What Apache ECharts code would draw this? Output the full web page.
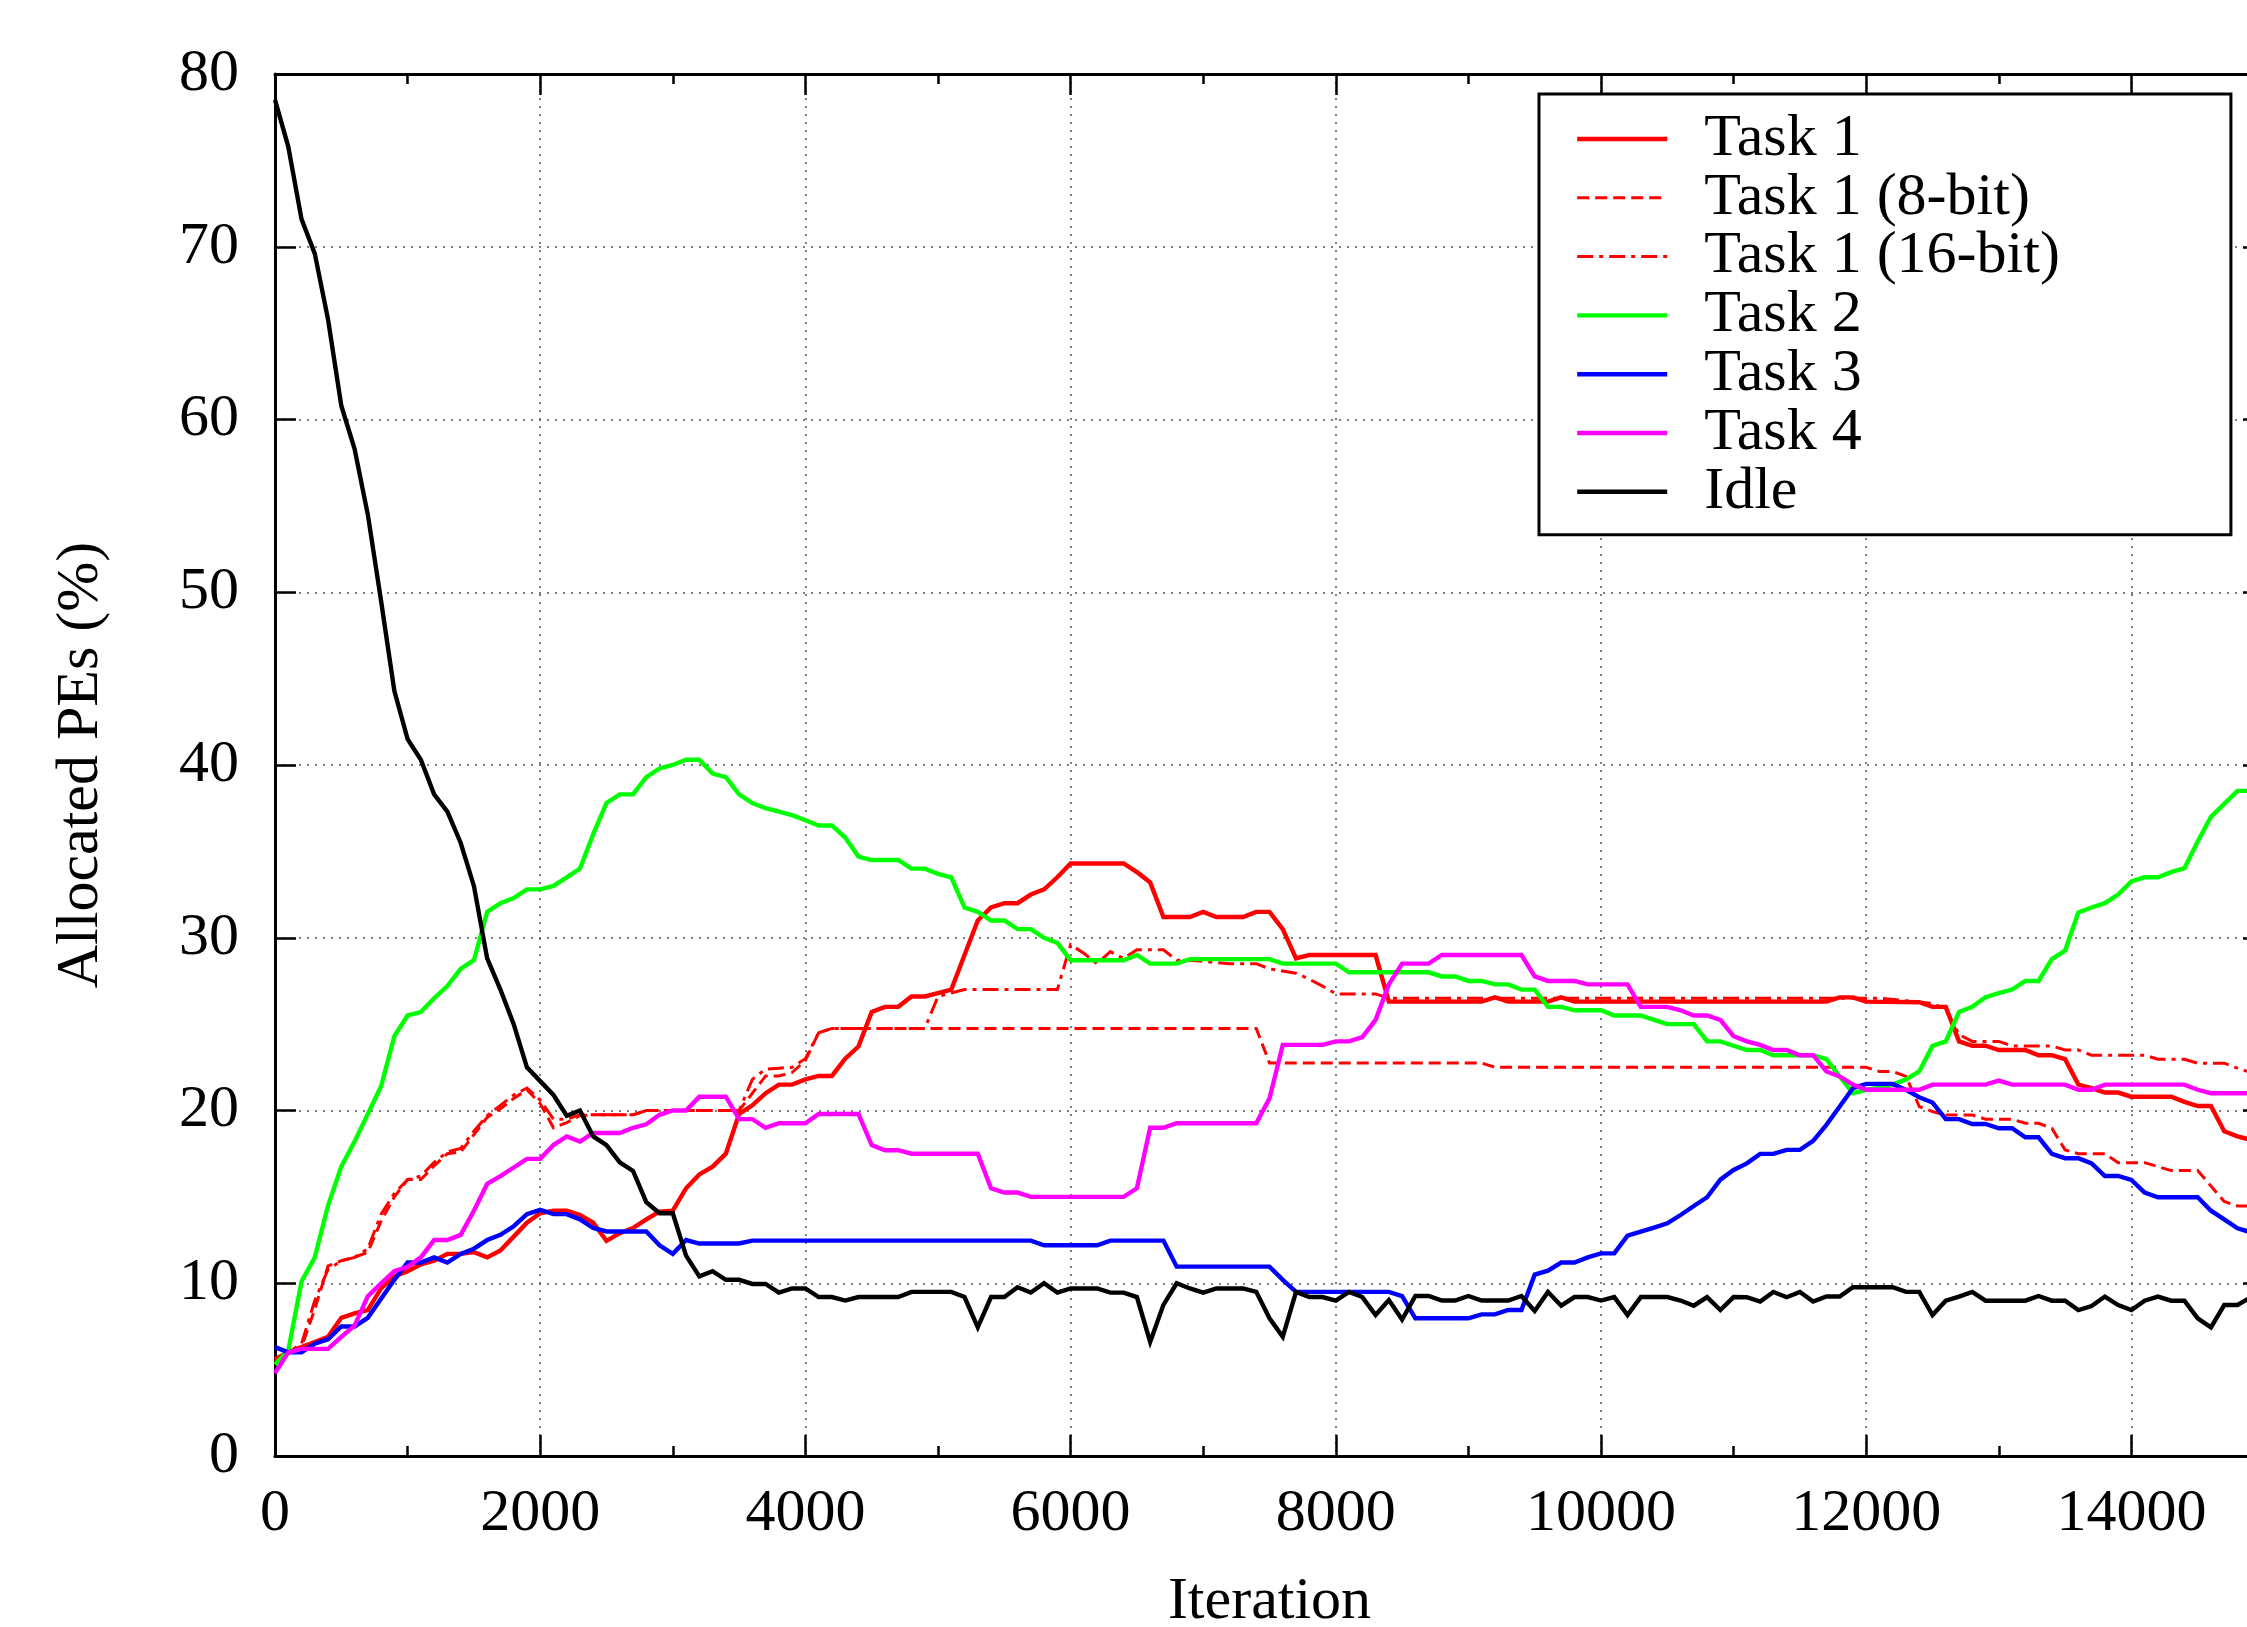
<!DOCTYPE html>
<html>
<head>
<meta charset="utf-8">
<script src="https://cdn.jsdelivr.net/npm/echarts@6/dist/echarts.min.js"></script>
<style>
  html, body { margin: 0; padding: 0; background: #fff; }
  #main { width: 2247px; height: 1627px; }
</style>
</head>
<body>
<div id="main"></div>
<script>
// [iteration, allocated PEs %]
const task1 = [[0,5.6],[100,6.0],[200,6.3],[300,6.6],[400,6.9],[500,8.0],[600,8.25],[700,8.45],[800,9.7],[900,10.4],[1000,10.7],[1100,11.1],[1200,11.3],[1300,11.7],[1400,11.7],[1500,11.8],[1600,11.5],[1700,11.9],[1800,12.7],[1900,13.5],[2000,14.05],[2100,14.2],[2200,14.2],[2300,13.95],[2400,13.5],[2500,12.45],[2600,12.9],[2700,13.2],[2800,13.7],[2900,14.15],[3000,14.2],[3100,15.5],[3200,16.3],[3300,16.75],[3400,17.5],[3500,19.8],[3600,20.3],[3700,21.0],[3800,21.5],[3900,21.5],[4000,21.8],[4100,22.0],[4200,22.0],[4300,23.0],[4400,23.7],[4500,25.7],[4600,26.0],[4700,26.0],[4800,26.6],[4900,26.6],[5000,26.8],[5100,27.0],[5200,29.0],[5300,31.0],[5400,31.75],[5500,32.0],[5600,32.0],[5700,32.5],[5800,32.8],[5900,33.5],[6000,34.3],[6400,34.3],[6500,33.8],[6600,33.2],[6700,31.2],[6900,31.2],[7000,31.5],[7100,31.2],[7300,31.2],[7400,31.5],[7500,31.5],[7600,30.5],[7700,28.8],[7800,29.0],[8300,29.0],[8400,26.3],[9100,26.3],[9200,26.55],[9300,26.3],[9600,26.3],[9700,26.55],[9800,26.3],[11700,26.3],[11800,26.55],[11900,26.55],[12000,26.3],[12400,26.27],[12500,26.0],[12600,26.0],[12700,24.0],[12800,23.75],[12900,23.75],[13000,23.5],[13200,23.5],[13300,23.2],[13400,23.2],[13500,22.97],[13600,21.5],[13700,21.3],[13800,21.04],[13900,21.04],[14000,20.8],[14300,20.8],[14400,20.5],[14500,20.26],[14600,20.26],[14700,18.8],[14800,18.5],[14900,18.3]];

const task1Bit8 = [[0,5.5],[100,6.0],[200,6.3],[300,8.5],[400,11.0],[500,11.3],[600,11.5],[700,11.8],[800,13.6],[900,15.0],[1000,16.0],[1100,16.0],[1200,16.8],[1300,17.5],[1400,17.6],[1500,18.6],[1600,19.6],[1700,20.1],[1800,20.7],[1900,21.2],[2000,20.4],[2100,19.0],[2200,19.3],[2300,19.7],[2400,19.75],[2700,19.75],[2800,20.0],[3500,20.0],[3600,21.0],[3700,22.0],[3800,22.0],[3900,22.2],[4000,22.9],[4100,24.5],[4200,24.75],[7400,24.75],[7500,22.75],[9100,22.75],[9200,22.5],[12000,22.5],[12100,22.26],[12200,22.26],[12300,21.97],[12400,20.23],[12500,19.94],[12600,19.74],[12800,19.74],[12900,19.5],[13100,19.5],[13200,19.26],[13300,19.26],[13400,18.97],[13500,17.72],[13600,17.5],[13800,17.5],[13900,16.98],[14100,16.98],[14200,16.75],[14300,16.52],[14500,16.52],[14600,15.63],[14700,14.73],[14800,14.47],[14900,14.47]];

const task1Bit16 = [[0,5.5],[100,6.0],[200,6.5],[300,9.0],[400,10.8],[500,11.3],[600,11.5],[700,12.0],[800,14.0],[900,15.2],[1000,16.0],[1100,16.2],[1200,17.0],[1300,17.6],[1400,17.8],[1500,18.8],[1600,19.7],[1700,20.3],[1800,20.9],[1900,21.3],[2000,20.6],[2100,19.5],[2200,19.5],[2300,19.75],[2700,19.75],[2800,20.0],[3500,20.0],[3600,21.8],[3700,22.4],[3800,22.45],[3900,22.5],[4000,23.0],[4100,24.5],[4200,24.75],[4900,24.75],[5000,26.6],[5100,26.8],[5200,27.0],[5900,27.0],[6000,29.6],[6100,29.1],[6200,28.5],[6300,29.2],[6400,28.8],[6500,29.3],[6700,29.3],[6800,28.7],[6900,28.7],[7200,28.5],[7400,28.5],[7500,28.2],[7700,27.95],[7800,27.6],[7900,27.2],[8000,26.75],[8300,26.75],[8400,26.5],[12100,26.5],[12500,26.2],[12600,25.87],[12700,24.4],[12800,24.0],[13000,24.0],[13100,23.74],[13400,23.74],[13500,23.5],[13600,23.5],[13700,23.2],[14100,23.2],[14200,22.97],[14400,22.97],[14500,22.74],[14700,22.74],[14800,22.45],[14900,22.2]];

const task2 = [[0,5.3],[100,6.1],[200,10.1],[300,11.5],[400,14.5],[500,16.75],[600,18.2],[700,19.8],[800,21.4],[900,24.3],[1000,25.5],[1100,25.7],[1200,26.5],[1300,27.2],[1400,28.2],[1500,28.7],[1600,31.5],[1700,32.0],[1800,32.3],[1900,32.8],[2000,32.8],[2100,33.0],[2200,33.5],[2300,34.0],[2400,36.0],[2500,37.8],[2600,38.3],[2700,38.3],[2800,39.3],[2900,39.8],[3000,40.0],[3100,40.3],[3200,40.3],[3300,39.5],[3400,39.3],[3500,38.3],[3600,37.8],[3700,37.5],[3800,37.3],[3900,37.1],[4000,36.8],[4100,36.5],[4200,36.5],[4300,35.8],[4400,34.7],[4500,34.5],[4700,34.5],[4800,34.0],[4900,34.0],[5000,33.7],[5100,33.5],[5200,31.75],[5300,31.5],[5400,31.0],[5500,31.0],[5600,30.5],[5700,30.5],[5800,30.0],[5900,29.7],[6000,28.7],[6400,28.7],[6500,29.0],[6600,28.5],[6800,28.5],[6900,28.76],[7500,28.76],[7600,28.5],[8000,28.5],[8100,28.0],[8700,28.0],[8800,27.76],[8900,27.76],[9000,27.5],[9100,27.5],[9200,27.3],[9300,27.3],[9400,27.0],[9500,27.0],[9600,26.0],[9700,26.0],[9800,25.8],[10000,25.8],[10100,25.5],[10300,25.5],[10400,25.25],[10500,25.0],[10700,25.0],[10800,24.0],[10900,24.0],[11000,23.75],[11100,23.5],[11200,23.5],[11300,23.2],[11600,23.2],[11700,22.97],[11800,21.97],[11900,21.0],[12000,21.2],[12100,21.3],[12200,21.5],[12300,21.8],[12400,22.26],[12500,23.74],[12600,24.0],[12700,25.7],[12800,26.0],[12900,26.56],[13000,26.8],[13100,27.0],[13200,27.5],[13300,27.5],[13400,28.76],[13500,29.26],[13600,31.46],[13700,31.75],[13800,32.0],[13900,32.5],[14000,33.26],[14100,33.5],[14200,33.5],[14300,33.8],[14400,34.03],[14500,35.57],[14600,37.0],[14700,37.75],[14800,38.5],[14900,38.5]];

const task3 = [[0,6.3],[100,6.0],[200,6.0],[300,6.5],[400,6.75],[500,7.5],[600,7.5],[700,8.0],[800,9.1],[900,10.2],[1000,11.2],[1100,11.2],[1200,11.5],[1300,11.2],[1400,11.7],[1500,12.0],[1600,12.5],[1700,12.8],[1800,13.3],[1900,14.0],[2000,14.25],[2100,14.0],[2200,14.0],[2300,13.7],[2400,13.2],[2500,13.0],[2800,13.0],[2900,12.2],[3000,11.7],[3100,12.5],[3200,12.3],[3500,12.3],[3600,12.47],[5700,12.47],[5800,12.2],[6200,12.2],[6300,12.47],[6700,12.47],[6800,10.96],[7500,10.96],[7600,10.2],[7700,9.5],[8400,9.5],[8500,9.26],[8600,7.97],[9000,7.97],[9100,8.2],[9200,8.2],[9300,8.45],[9400,8.45],[9500,10.5],[9600,10.73],[9700,11.2],[9800,11.2],[9900,11.5],[10000,11.73],[10100,11.73],[10200,12.76],[10300,12.99],[10400,13.22],[10500,13.47],[10600,13.95],[10700,14.47],[10800,14.98],[10900,16.0],[11000,16.56],[11100,16.94],[11200,17.49],[11300,17.49],[11400,17.72],[11500,17.72],[11600,18.24],[11700,19.17],[11800,20.23],[11900,21.29],[12000,21.54],[12200,21.54],[12300,21.19],[12400,20.77],[12500,20.46],[12600,19.5],[12700,19.5],[12800,19.22],[12900,19.22],[13000,18.97],[13100,18.97],[13200,18.45],[13300,18.45],[13400,17.49],[13500,17.24],[13600,17.24],[13700,16.94],[13800,16.21],[13900,16.21],[14000,15.98],[14100,15.25],[14200,14.98],[14500,14.98],[14600,14.2],[14700,13.7],[14800,13.18],[14900,12.95]];

const task4 = [[0,4.8],[100,6.0],[200,6.2],[400,6.2],[500,6.9],[600,7.55],[700,9.25],[800,10.0],[900,10.7],[1000,10.95],[1100,11.5],[1200,12.5],[1300,12.5],[1400,12.8],[1500,14.2],[1600,15.75],[1700,16.2],[1800,16.7],[1900,17.2],[2000,17.2],[2100,18.0],[2200,18.5],[2300,18.2],[2400,18.7],[2600,18.7],[2700,19.0],[2800,19.2],[2900,19.75],[3000,20.0],[3100,20.0],[3200,20.8],[3400,20.8],[3500,19.5],[3600,19.5],[3700,19.0],[3800,19.26],[4000,19.26],[4100,19.8],[4400,19.8],[4500,18.0],[4600,17.7],[4700,17.7],[4800,17.5],[5300,17.5],[5400,15.5],[5500,15.25],[5600,15.25],[5700,15.0],[6400,15.0],[6500,15.5],[6600,19.0],[6700,19.0],[6800,19.26],[7400,19.26],[7500,20.7],[7600,23.8],[7900,23.8],[8000,24.0],[8100,24.0],[8200,24.25],[8300,25.25],[8400,27.3],[8500,28.5],[8700,28.5],[8800,29.0],[9400,29.0],[9500,27.76],[9600,27.5],[9800,27.5],[9900,27.3],[10200,27.3],[10300,26.0],[10500,26.0],[10600,25.8],[10700,25.5],[10800,25.5],[10900,25.25],[11000,24.3],[11100,24.0],[11200,23.8],[11300,23.5],[11400,23.5],[11500,23.2],[11600,23.2],[11700,22.26],[11800,21.97],[11900,21.5],[12000,21.2],[12400,21.2],[12500,21.5],[12900,21.5],[13000,21.73],[13100,21.5],[13500,21.5],[13600,21.2],[13700,21.2],[13800,21.5],[14400,21.5],[14500,21.2],[14600,21.0],[14900,21.0]];

const idle = [[0,78.5],[100,75.8],[200,71.6],[300,69.6],[400,65.8],[500,60.8],[600,58.3],[700,54.5],[800,49.5],[900,44.3],[1000,41.5],[1100,40.3],[1200,38.3],[1300,37.3],[1400,35.5],[1500,33.0],[1600,28.8],[1700,27.0],[1800,25.0],[1900,22.5],[2000,21.7],[2100,20.9],[2200,19.7],[2300,20.0],[2400,18.5],[2500,18.0],[2600,17.0],[2700,16.5],[2800,14.7],[2900,14.05],[3000,14.05],[3100,11.6],[3200,10.4],[3300,10.7],[3400,10.2],[3500,10.2],[3600,9.96],[3700,9.96],[3800,9.46],[3900,9.7],[4000,9.7],[4100,9.2],[4200,9.2],[4300,9.0],[4400,9.2],[4700,9.2],[4800,9.5],[5100,9.5],[5200,9.2],[5300,7.45],[5400,9.2],[5500,9.2],[5600,9.77],[5700,9.46],[5800,10.0],[5900,9.46],[6000,9.7],[6200,9.7],[6300,9.46],[6400,9.46],[6500,9.2],[6600,6.6],[6700,8.75],[6800,10.0],[6900,9.7],[7000,9.46],[7100,9.7],[7300,9.7],[7400,9.5],[7500,7.97],[7600,6.9],[7700,9.5],[7800,9.2],[7900,9.2],[8000,9.0],[8100,9.5],[8200,9.2],[8300,8.16],[8400,9.03],[8500,7.9],[8600,9.26],[8700,9.26],[8800,9.0],[8900,9.0],[9000,9.26],[9100,9.0],[9300,9.0],[9400,9.26],[9500,8.4],[9600,9.5],[9700,8.7],[9800,9.2],[9900,9.2],[10000,9.0],[10100,9.2],[10200,8.16],[10300,9.2],[10500,9.2],[10600,9.0],[10700,8.7],[10800,9.2],[10900,8.45],[11000,9.2],[11100,9.19],[11200,8.94],[11300,9.5],[11400,9.19],[11500,9.5],[11600,8.94],[11700,9.23],[11800,9.23],[11900,9.77],[12200,9.77],[12300,9.5],[12400,9.5],[12500,8.16],[12600,8.99],[12700,9.23],[12800,9.5],[12900,8.99],[13200,8.99],[13300,9.26],[13400,8.99],[13500,8.99],[13600,8.45],[13700,8.68],[13800,9.23],[13900,8.74],[14000,8.45],[14100,8.99],[14200,9.23],[14300,8.99],[14400,8.99],[14500,7.97],[14600,7.45],[14700,8.74],[14800,8.74],[14900,9.19]];

let chart = echarts.init(document.getElementById('main'));

const FONT = 'Liberation Serif';

let makeSeries = function (name, data, color, width, dash) {
    return {
        name: name,
        type: 'line',
        data: data,
        symbol: 'none',
        animation: false,
        lineStyle: { color: color, width: width, type: dash || 'solid', cap: 'butt', join: 'miter' },
        itemStyle: { color: color }
    };
};

let tickStyle = { color: '#000', width: 2.5 };

let option = {
    backgroundColor: '#fff',
    textStyle: { fontFamily: FONT },
    // plot box runs slightly past the right edge of the picture (x max = 15000)
    grid: { left: 275, top: 74, width: 1989, height: 1382, outerBoundsMode: 'none', containLabel: false },
    legend: {
        orient: 'vertical',
        left: 1539,
        top: 94,
        padding: [15, 171, 13, 36],
        itemWidth: 90,
        itemHeight: 20,
        itemGap: -1.2,
        backgroundColor: '#fff',
        borderColor: '#000',
        borderWidth: 3,
        borderRadius: 0,
        itemStyle: { opacity: 0 },
        lineStyle: { width: 'inherit' },
        textStyle: { fontFamily: FONT, fontSize: 60, color: '#000', padding: [0, 0, 0, 32] },
        data: ['Task 1', 'Task 1 (8-bit)', 'Task 1 (16-bit)', 'Task 2', 'Task 3', 'Task 4', 'Idle']
    },
    xAxis: [{
        type: 'value',
        min: 0,
        max: 15000,
        interval: 2000,
        name: 'Iteration',
        nameLocation: 'middle',
        nameGap: 116,
        nameTextStyle: { fontFamily: FONT, fontSize: 60, color: '#000' },
        axisLine: { show: true, onZero: false, lineStyle: { color: '#000', width: 3 } },
        axisTick: { show: true, inside: true, length: 21, lineStyle: tickStyle },
        minorTick: { show: true, splitNumber: 2, length: 10, lineStyle: tickStyle },
        axisLabel: {
            fontFamily: FONT, fontSize: 60, color: '#000', margin: 28, showMaxLabel: false,
            formatter: function (v) { return String(v); }
        },
        splitLine: { show: true, lineStyle: { color: '#555', width: 1.5, type: [2, 6] } }
    }, {
        type: 'value',
        position: 'top',
        min: 0,
        max: 15000,
        interval: 2000,
        axisLine: { show: true, onZero: false, lineStyle: { color: '#000', width: 3 } },
        axisTick: { show: true, inside: true, length: 21, lineStyle: tickStyle },
        minorTick: { show: true, splitNumber: 2, length: 10, lineStyle: tickStyle },
        axisLabel: { show: false },
        splitLine: { show: false }
    }],
    yAxis: [{
        type: 'value',
        min: 0,
        max: 80,
        interval: 10,
        name: 'Allocated PEs (%)',
        nameLocation: 'middle',
        nameGap: 164,
        nameTextStyle: { fontFamily: FONT, fontSize: 60, color: '#000' },
        axisLine: { show: true, onZero: false, lineStyle: { color: '#000', width: 3 } },
        axisTick: { show: true, inside: true, length: 21, lineStyle: tickStyle },
        axisLabel: { fontFamily: FONT, fontSize: 60, color: '#000', margin: 36 },
        splitLine: { show: true, lineStyle: { color: '#555', width: 1.5, type: [2, 6] } }
    }, {
        type: 'value',
        position: 'right',
        min: 0,
        max: 80,
        interval: 10,
        axisLine: { show: true, onZero: false, lineStyle: { color: '#000', width: 3 } },
        axisTick: { show: true, inside: true, length: 21, lineStyle: tickStyle },
        axisLabel: { show: false },
        splitLine: { show: false }
    }],
    series: [
        makeSeries('Task 1', task1, '#ff0000', 4.4),
        makeSeries('Task 1 (8-bit)', task1Bit8, '#ff0000', 3, [12, 6]),
        makeSeries('Task 1 (16-bit)', task1Bit16, '#ff0000', 3, [16, 6, 4, 6]),
        makeSeries('Task 2', task2, '#00ff00', 4.4),
        makeSeries('Task 3', task3, '#0000ff', 4.4),
        makeSeries('Task 4', task4, '#ff00ff', 4.4),
        makeSeries('Idle', idle, '#000000', 4.4)
    ]
};
chart.setOption(option);
</script>
</body>
</html>
